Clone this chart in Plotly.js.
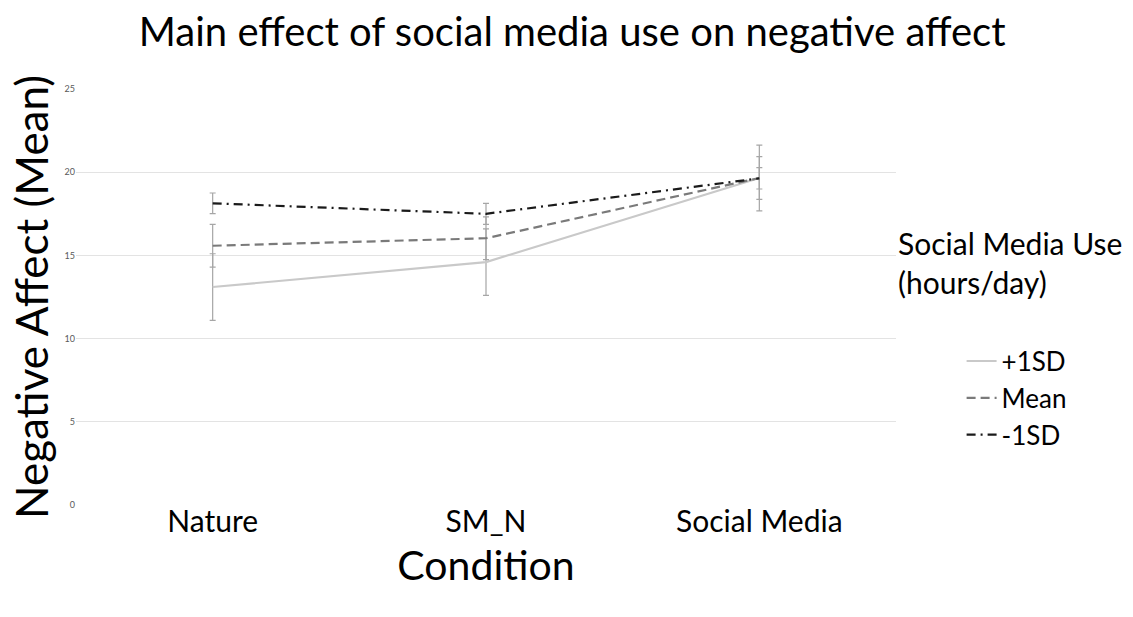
<!DOCTYPE html>
<html>
<head>
<meta charset="utf-8">
<script src="https://cdn.plot.ly/plotly-3.0.1.min.js"></script>
<style>html,body{margin:0;padding:0;background:#fff;}#chart{width:1133px;height:617px;}</style>
</head>
<body>
<div id="chart"></div>
<script>
const categories = ["Nature", "SM_N", "Social Media"];
const seriesNames = ["+1SD", "Mean", "-1SD"];
const plusSD = [13.1, 14.6, 19.65];
const meanUse = [15.58, 16.03, 19.65];
const minusSD = [18.13, 17.5, 19.63];
const errPlusSD = [2.0, 2.0, 1.98];
const errMean = [1.28, 1.28, 1.28];
const errMinusSD = [0.62, 0.63, 0.64];
const yTicks = [0, 5, 10, 15, 20, 25];

const FONT = "Lato, 'Open Sans', sans-serif";
const errStyle = (arr) => ({type: "data", array: arr, visible: true, color: "#a6a6a6", thickness: 1.2, width: 3});

const traces = [
  {x: categories, y: plusSD, name: seriesNames[0], type: "scatter", mode: "lines",
   line: {color: "#c9c9c9", width: 2.2}, error_y: errStyle(errPlusSD)},
  {x: categories, y: meanUse, name: seriesNames[1], type: "scatter", mode: "lines",
   line: {color: "#7a7a7a", width: 2.2, dash: "9px,5px"}, error_y: errStyle(errMean)},
  {x: categories, y: minusSD, name: seriesNames[2], type: "scatter", mode: "lines",
   line: {color: "#1a1a1a", width: 2.2, dash: "9px,5px,2px,5px"}, error_y: errStyle(errMinusSD)}
];

const layout = {
  width: 1133, height: 617,
  paper_bgcolor: "#fff", plot_bgcolor: "#fff",
  font: {family: FONT, color: "#000"},
  margin: {l: 76, r: 237, t: 89, b: 112},
  title: {text: "Main effect of social media use on negative affect", font: {size: 40, family: FONT, color: "#000"},
          x: 0.505, xanchor: "center", y: 0.948, yanchor: "middle"},
  xaxis: {type: "category", range: [-0.5, 2.5], showgrid: false, zeroline: false, showline: false,
          ticks: "", tickfont: {size: 30, family: FONT, color: "#000"}, ticklabelstandoff: -4,
          title: {text: "Condition", font: {size: 41, family: FONT, color: "#000"}, standoff: 14}},
  yaxis: {range: [0, 25], tickvals: yTicks, showgrid: true, gridcolor: "#e3e3e3", gridwidth: 1, zeroline: false,
          showline: false, ticks: "", tickfont: {size: 9, family: FONT, color: "#595959"},
          title: {text: "Negative Affect (Mean)", font: {size: 44, family: FONT, color: "#000"}, standoff: 2}},
  showlegend: true,
  legend: {x: 1.08, xanchor: "left", y: 0.257, yanchor: "middle", font: {size: 26, family: FONT, color: "#000"},
           bgcolor: "rgba(0,0,0,0)", itemwidth: 30},
  annotations: [{text: "Social Media Use<br>(hours/day)", xref: "paper", yref: "paper", x: 1.0, y: 0.584,
                 xanchor: "left", yanchor: "middle", align: "left", showarrow: false,
                 font: {size: 30, family: FONT, color: "#000"}}]
};

Plotly.newPlot("chart", traces, layout, {displayModeBar: false, staticPlot: true});
</script>
</body>
</html>
